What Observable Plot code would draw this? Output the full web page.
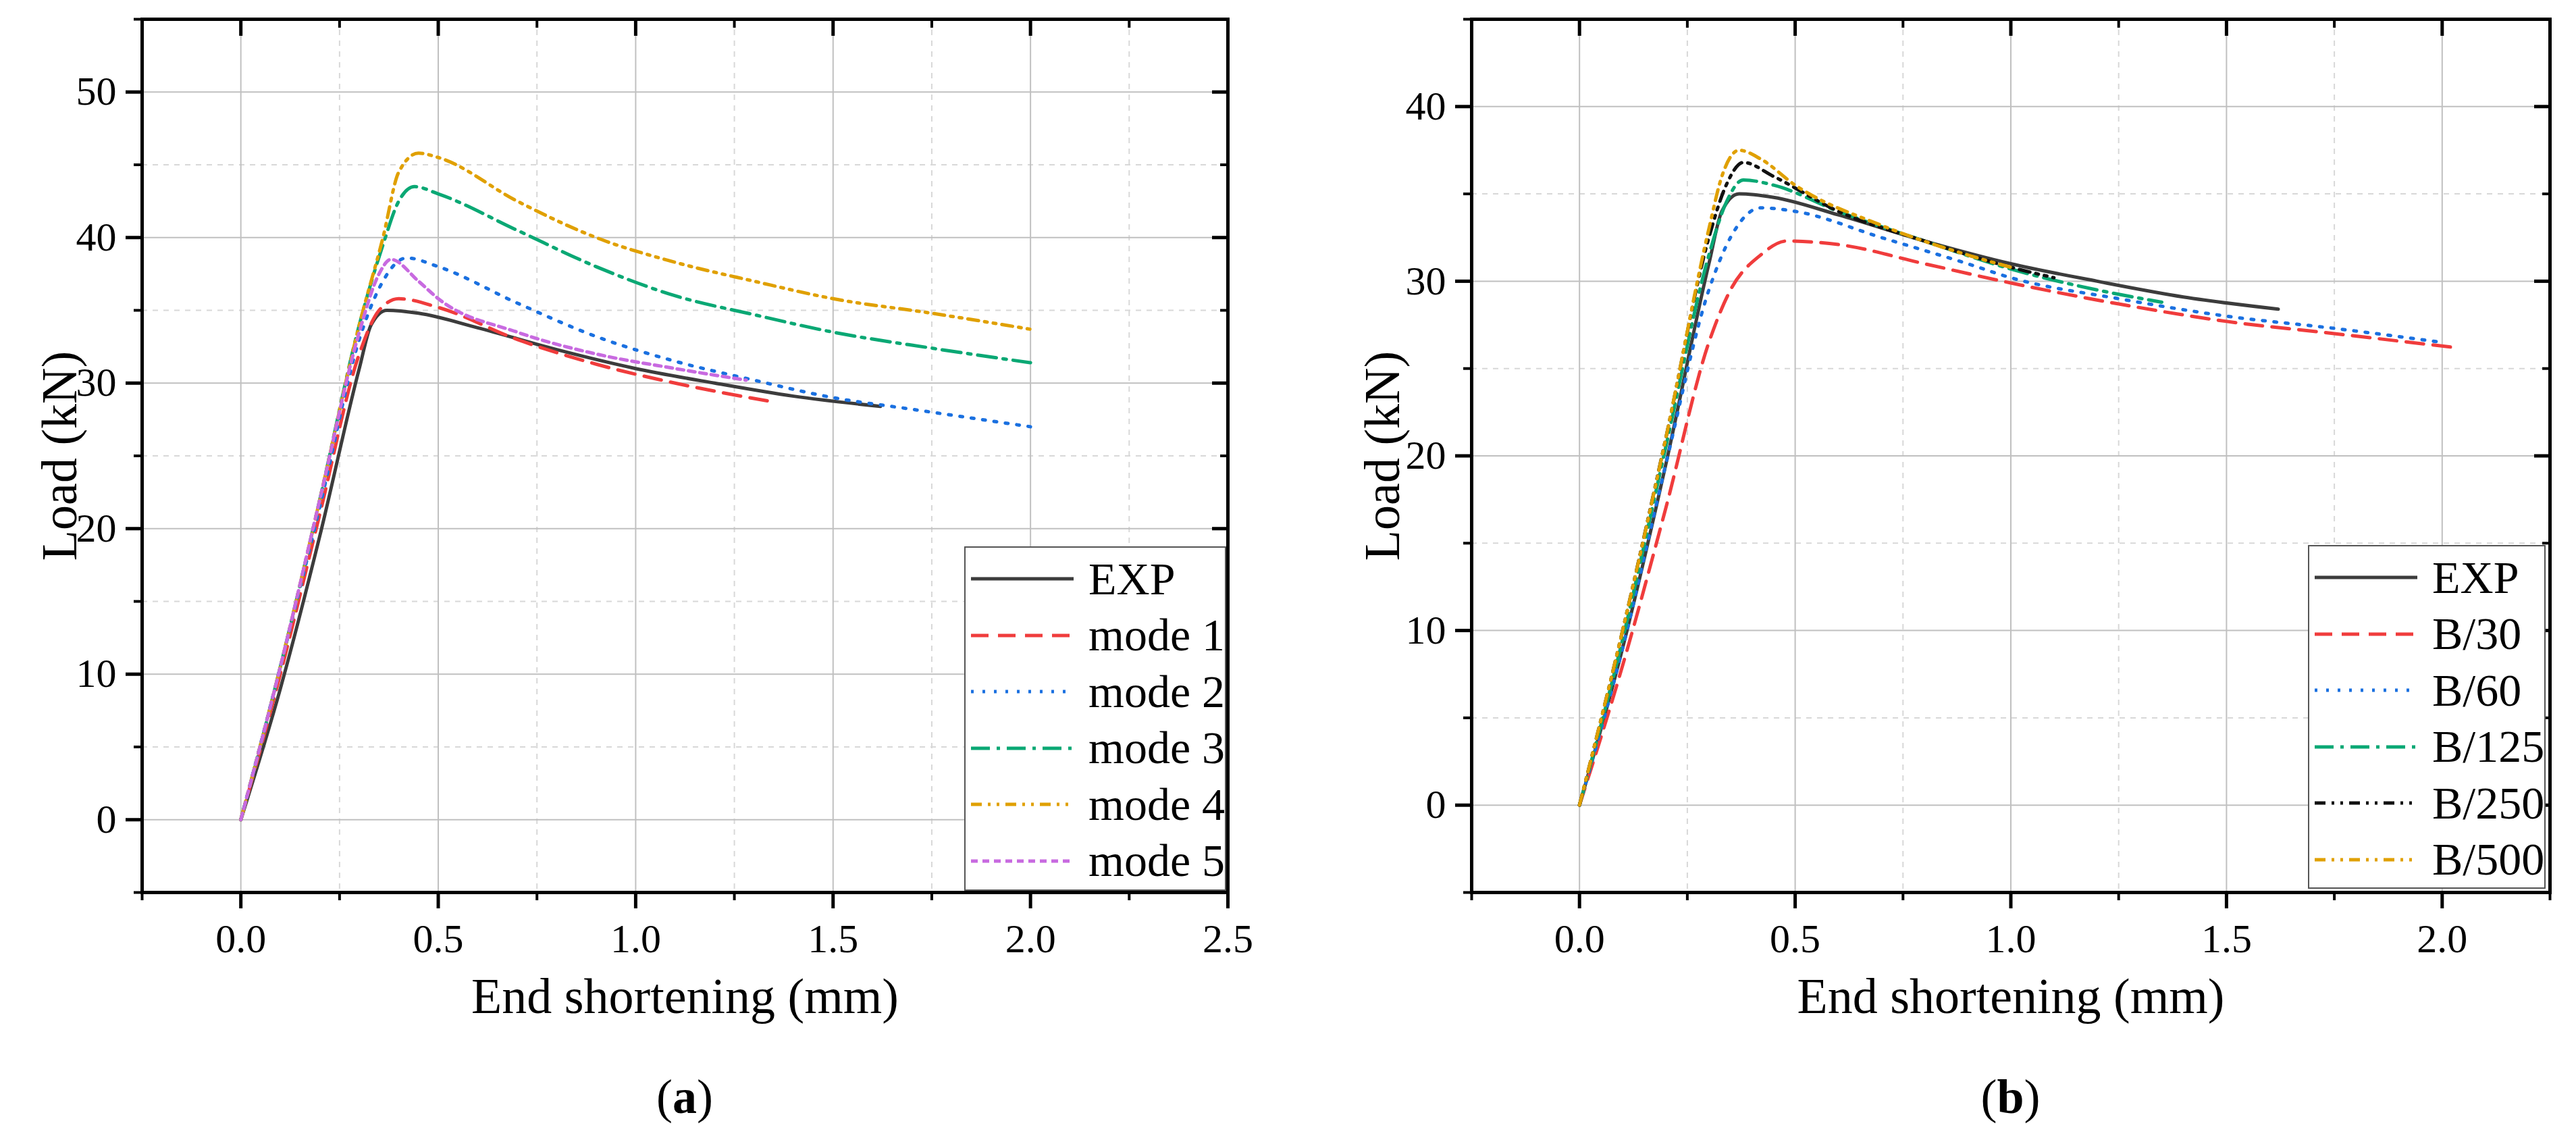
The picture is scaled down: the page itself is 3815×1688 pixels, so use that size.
<!DOCTYPE html>
<html>
<head>
<meta charset="utf-8">
<script src="https://cdn.jsdelivr.net/npm/d3@7"></script>
<script src="https://cdn.jsdelivr.net/npm/@observablehq/plot@0.6"></script>
<style>
  body { margin: 0; background: #fff; font-family: "Liberation Serif", serif; }
  #wrap { position: relative; width: 3815px; height: 1688px; }
  .panel { position: absolute; top: 0; }
  .cap { position: absolute; font-size: 72px; transform: translate(-50%, -50%); }
  .legend { position: absolute; border: 2px solid #555; background: #fff; }
  .legend .row { position: absolute; left: 0; height: 80px; display: flex; align-items: center; font-size: 68px; white-space: nowrap; }
</style>
</head>
<body>
<div id="wrap"></div>
<script>
// panel (a): buckling mode imperfections
const expX = [0, 0.1, 0.2, 0.3, 0.33, 0.37, 0.45, 0.6, 0.8, 1.0, 1.2, 1.4, 1.62];
const expY = [0, 9, 19.5, 31, 34, 35, 34.8, 33.8, 32.3, 31, 30, 29.1, 28.4];

const m1X = [0, 0.1, 0.2, 0.3, 0.35, 0.4, 0.5, 0.7, 0.9, 1.1, 1.35];
const m1Y = [0, 10, 21, 32, 35, 35.8, 35.2, 33, 31.3, 30, 28.7];
const m2X = [0, 0.1, 0.2, 0.3, 0.35, 0.42, 0.5, 0.7, 0.9, 1.1, 1.3, 1.5, 1.7, 2.0];
const m2Y = [0, 10.5, 21.5, 33, 36.5, 38.6, 38, 35.5, 33.2, 31.5, 30.2, 29, 28.2, 27];
const m3X = [0, 0.1, 0.2, 0.3, 0.36, 0.4, 0.44, 0.5, 0.7, 0.9, 1.1, 1.3, 1.5, 1.75, 2.0];
const m3Y = [0, 10.5, 22, 34, 39.5, 42.5, 43.5, 43, 40.5, 38, 36, 34.7, 33.5, 32.4, 31.4];
const m4X = [0, 0.1, 0.2, 0.3, 0.36, 0.4, 0.45, 0.5, 0.7, 0.9, 1.1, 1.3, 1.5, 1.75, 2.0];
const m4Y = [0, 10.5, 22, 34, 40, 44.5, 45.8, 45.5, 42.5, 40, 38.3, 37, 35.8, 34.8, 33.7];
const m5X = [0, 0.1, 0.2, 0.3, 0.35, 0.38, 0.45, 0.5, 0.7, 0.9, 1.1, 1.28];
const m5Y = [0, 10.5, 22, 33.5, 37.5, 38.5, 37, 35.8, 33.5, 32, 31, 30.2];

// panel (b): imperfection amplitude
const b30X = [0, 0.1, 0.2, 0.3, 0.35, 0.42, 0.48, 0.6, 0.8, 1.0, 1.25, 1.5, 1.75, 2.03];
const b30Y = [0, 8, 17, 26.5, 29.5, 31.5, 32.3, 32.1, 31, 29.9, 28.7, 27.7, 27, 26.2];
const b60X = [0, 0.1, 0.2, 0.3, 0.35, 0.42, 0.5, 0.7, 0.9, 1.0, 1.25, 1.5, 1.75, 2.0];
const b60Y = [0, 9, 19.5, 29.5, 32.5, 34.2, 34, 32.5, 31, 30.2, 29, 28, 27.3, 26.5];
const b125X = [0, 0.1, 0.2, 0.3, 0.34, 0.38, 0.45, 0.6, 0.8, 1.0, 1.2, 1.35];
const b125Y = [0, 9.5, 20.5, 31.5, 34.5, 35.8, 35.5, 34, 32.3, 30.7, 29.5, 28.8];
const b250X = [0, 0.1, 0.2, 0.3, 0.34, 0.38, 0.45, 0.6, 0.8, 1.0, 1.1];
const b250Y = [0, 10, 21, 32.5, 35.5, 36.8, 36, 34, 32.3, 30.8, 30.2];
const b500X = [0, 0.1, 0.2, 0.3, 0.33, 0.37, 0.42, 0.5, 0.7, 0.9, 1.0];
const b500Y = [0, 10, 21, 33, 36, 37.5, 37, 35.5, 33.2, 31.5, 30.8];

const styles = {
  exp: {stroke: "#3c3c3c", dash: null},
  red: {stroke: "#f03c3c", dash: "26,14"},
  blue: {stroke: "#1a70e0", dash: "4,13"},
  green: {stroke: "#0aa874", dash: "28,10,5,10"},
  orange: {stroke: "#e0a000", dash: "16,9,4,9,4,9"},
  purple: {stroke: "#c86ae0", dash: "10,7"},
  black: {stroke: "#111", dash: "16,9,4,9,4,9"}
};

const panelA = [
  {name: "EXP", xs: expX, ys: expY, s: styles.exp},
  {name: "mode 1", xs: m1X, ys: m1Y, s: styles.red},
  {name: "mode 2", xs: m2X, ys: m2Y, s: styles.blue},
  {name: "mode 3", xs: m3X, ys: m3Y, s: styles.green},
  {name: "mode 4", xs: m4X, ys: m4Y, s: styles.orange},
  {name: "mode 5", xs: m5X, ys: m5Y, s: styles.purple}
];
const panelB = [
  {name: "EXP", xs: expX, ys: expY, s: styles.exp},
  {name: "B/30", xs: b30X, ys: b30Y, s: styles.red},
  {name: "B/60", xs: b60X, ys: b60Y, s: styles.blue},
  {name: "B/125", xs: b125X, ys: b125Y, s: styles.green},
  {name: "B/250", xs: b250X, ys: b250Y, s: styles.black},
  {name: "B/500", xs: b500X, ys: b500Y, s: styles.orange}
];

const wrap = document.getElementById("wrap");

function makePanel(series, o) {
  const majX = d3.range(0, o.xmax + 0.001, 0.5);
  const minX = d3.range(-0.25, o.xmax + 0.3, 0.5);
  const majY = d3.range(0, o.ymax + 1, 10);
  const minY = d3.range(-5, o.ymax + 1, 10);
  const marks = [
    Plot.gridX(minX, {stroke: "#d8d8d8", strokeOpacity: 1, strokeWidth: 2, strokeDasharray: "8,8"}),
    Plot.gridY(minY, {stroke: "#d8d8d8", strokeOpacity: 1, strokeWidth: 2, strokeDasharray: "8,8"}),
    Plot.gridX(majX, {stroke: "#c0c0c0", strokeOpacity: 1, strokeWidth: 2}),
    Plot.gridY(majY, {stroke: "#c0c0c0", strokeOpacity: 1, strokeWidth: 2}),
    Plot.axisX(majX, {anchor: "bottom", tickSize: 24, tickPadding: 22, strokeWidth: 5, tickFormat: d3.format(".1f"),
      label: "End shortening (mm)", labelAnchor: "center", labelArrow: "none", labelOffset: 178, fontSize: 60}),
    Plot.axisX(minX, {anchor: "bottom", tickSize: 12, strokeWidth: 4, text: null, label: null}),
    Plot.axisX(majX, {anchor: "top", tickSize: -24, strokeWidth: 5, text: null, label: null}),
    Plot.axisX(minX, {anchor: "top", tickSize: -12, strokeWidth: 4, text: null, label: null}),
    Plot.axisY(majY, {anchor: "left", tickSize: 24, tickPadding: 14, strokeWidth: 5,
      label: "Load (kN)", labelAnchor: "center", labelArrow: "none", labelOffset: o.ylabOff, fontSize: 60}),
    Plot.axisY(minY, {anchor: "left", tickSize: 12, strokeWidth: 4, text: null, label: null}),
    Plot.axisY(majY, {anchor: "right", tickSize: -24, strokeWidth: 5, text: null, label: null}),
    Plot.axisY(minY, {anchor: "right", tickSize: -12, strokeWidth: 4, text: null, label: null}),
    Plot.frame({stroke: "black", strokeWidth: 5})
  ];
  for (const sr of series) {
    const pts = sr.xs.map((x, i) => ({x, y: sr.ys[i]}));
    marks.push(Plot.line(pts, {x: "x", y: "y", curve: "monotone-x", stroke: sr.s.stroke,
      strokeWidth: 5, strokeDasharray: sr.s.dash}));
  }
  const chart = Plot.plot({
    width: o.width, height: 1560,
    marginLeft: o.ml, marginRight: o.mr, marginTop: 28, marginBottom: 239,
    style: {fontFamily: "Liberation Serif", fontSize: "60px", color: "black", background: "white"},
    x: {domain: [-0.25, o.xmax + 0.25 * o.xext], label: null},
    y: {domain: [-5, o.ymax], label: null},
    marks
  });
  const div = document.createElement("div");
  div.className = "panel";
  div.style.left = o.left + "px";
  div.appendChild(chart);
  wrap.appendChild(div);

  const cap = document.createElement("div");
  cap.className = "cap";
  cap.style.left = (o.left + o.ml + (o.width - o.ml - o.mr) / 2) + "px";
  cap.style.top = "1624px";
  cap.innerHTML = "(<b>" + o.tag + "</b>)";
  wrap.appendChild(cap);

  const lg = document.createElement("div");
  lg.className = "legend";
  lg.style.left = o.lg[0] + "px";
  lg.style.top = o.lg[1] + "px";
  lg.style.width = o.lg[2] + "px";
  lg.style.height = o.lg[3] + "px";
  series.forEach((sr, i) => {
    const row = document.createElement("div");
    row.className = "row";
    row.style.top = (6 + i * 83.5) + "px";
    row.innerHTML = `<svg width="160" height="20" style="margin:0 14px 0 8px"><line x1="0" x2="152" y1="10" y2="10" stroke="${sr.s.stroke}" stroke-width="5" ${sr.s.dash ? `stroke-dasharray="${sr.s.dash}"` : ""}/></svg><span>${sr.name}</span>`;
    lg.appendChild(row);
  });
  wrap.appendChild(lg);
}

makePanel(panelA, {left: 0, width: 1900, ml: 210, mr: 82, xmax: 2.5, xext: 0, ymax: 55, ylabOff: 150, tag: "a",
  lg: [1428, 809, 384, 506]});
makePanel(panelB, {left: 1900, width: 1915, ml: 279, mr: 39, xmax: 2.0, xext: 1, ymax: 45, ylabOff: 160, tag: "b",
  lg: [3418, 807, 348, 505]});

// enlarge axis titles
document.querySelectorAll("svg [aria-label='x-axis label'] text, svg [aria-label='y-axis label'] text").forEach(t => t.setAttribute("font-size", 74));
</script>
</body>
</html>
